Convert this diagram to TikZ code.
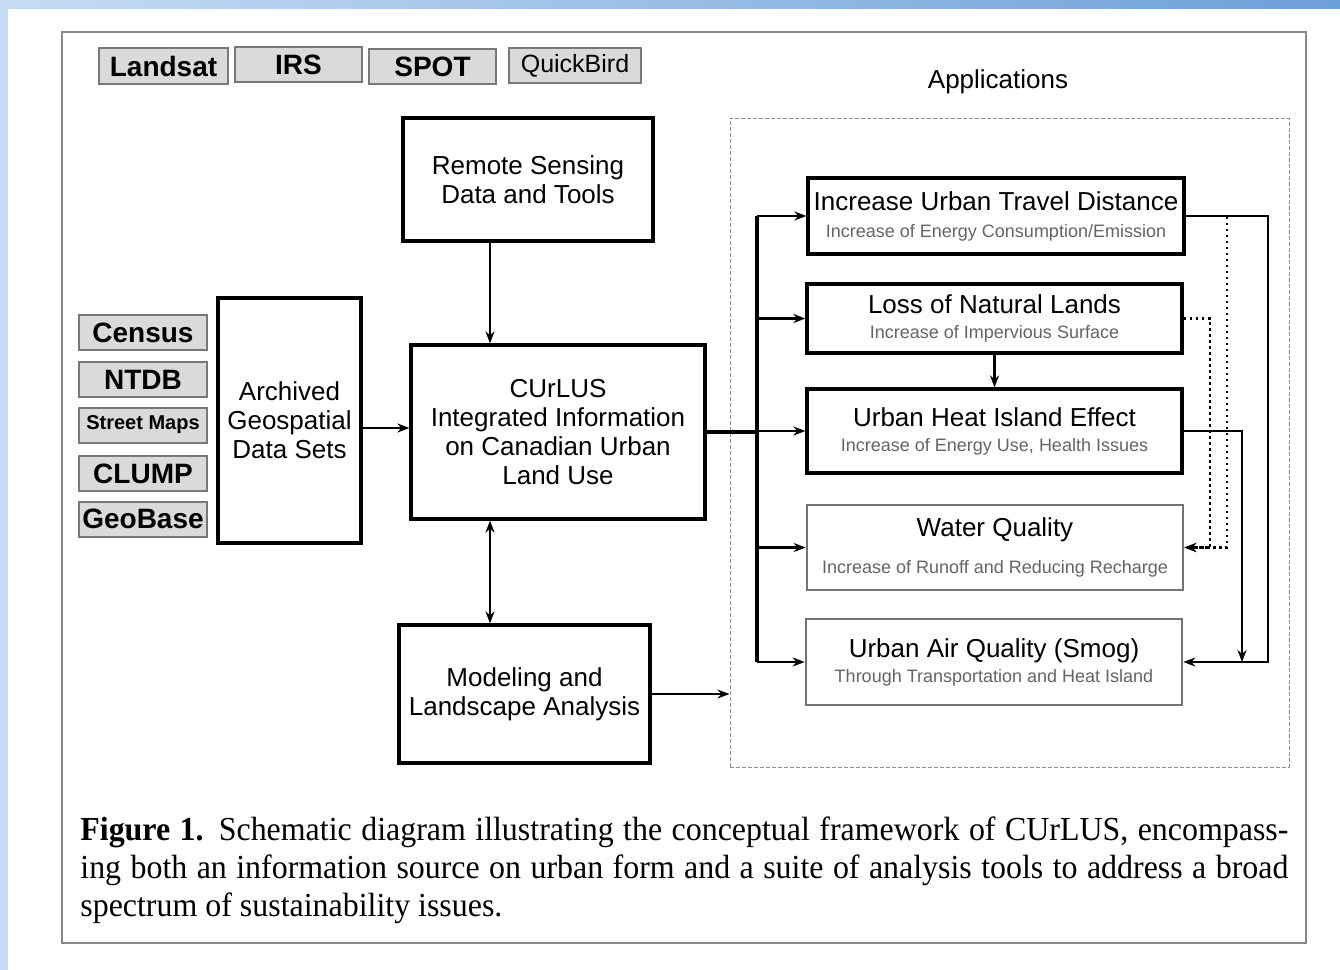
\documentclass[tikz,border=0pt]{standalone}
\usepackage{fontspec}
\setmainfont{Liberation Sans}
\newfontfamily\capserif[FakeStretch=0.95]{Liberation Serif}
\usetikzlibrary{arrows.meta}
\definecolor{bandlight}{RGB}{198,220,245}
\definecolor{banddark}{RGB}{108,160,216}
\definecolor{boxgray}{RGB}{218,218,218}
\definecolor{edgegray}{RGB}{120,120,120}
\definecolor{subgray}{RGB}{100,100,100}
\definecolor{framegray}{RGB}{135,135,135}
\newcommand\appnote[1]{{\fontsize{9}{10}\selectfont\color{subgray}#1}}

\begin{document}
\begin{tikzpicture}[x=0.5pt,y=-0.5pt,
  srcbox/.style={draw=edgegray,fill=boxgray,line width=1pt,inner sep=0pt,
    minimum width=64pt,minimum height=17.5pt,font=\bfseries\fontsize{14}{16}\selectfont},
  mainbox/.style={draw,line width=1.6pt,inner sep=0pt,align=center,
    font=\fontsize{13}{14.5}\selectfont},
  appbox/.style={mainbox,minimum width=188pt},
  softbox/.style={appbox,draw=black!55,line width=1.3pt},
  arr/.style={-{Stealth[length=6pt,width=4.5pt]},line width=1.4pt},
  dblarr/.style={{Stealth[length=6pt,width=4.5pt]}-{Stealth[length=6pt,width=4.5pt]},line width=1.4pt},
  dotarr/.style={arr,line width=1.3pt,dash pattern=on 1.3pt off 1.7pt},
  bigline/.style={line width=2pt},
  captext/.style={anchor=base west,inner sep=0pt,font=\capserif\fontsize{16.8}{19}\selectfont}]
  \useasboundingbox (0,0) rectangle (1340,970);
  \fill[white] (0,0) rectangle (1340,970);
  \shade[left color=bandlight,right color=banddark] (0,0) rectangle (1340,8);
  \fill[bandlight] (0,0) rectangle (8,970);
  \draw[framegray,line width=1.2pt] (62,32) rectangle (1306,943);

  % satellites
  \node[srcbox,minimum width=64.5pt,minimum height=18pt] (landsat) at (163.5,66) {Landsat};
  \node[srcbox,minimum width=63.5pt] (irs) at (298.5,64.5) {IRS};
  \node[srcbox,minimum width=63.5pt] (spot) at (432.5,66.5) {SPOT};
  \node[srcbox,minimum width=66pt,font=\fontsize{12.5}{14}\selectfont] (quickbird) at (575,65.5) {QuickBird};

  % archived sources
  \foreach \name/\y/\txt in {census/332.5/Census,ntdb/379.5/NTDB,
      streets/425/{\fontsize{10}{12}\selectfont Street Maps},clump/473.5/CLUMP,geobase/519/GeoBase}
    \node[srcbox] (\name) at (143,\y) {\txt};

  \node[mainbox,minimum width=71.5pt,minimum height=122.5pt] (archived) at (289.5,420.5)
    {Archived\\Geospatial\\Data Sets};
  \node[mainbox,minimum width=125pt,minimum height=61.5pt] (remote) at (528,179.5)
    {Remote Sensing\\Data and Tools};
  \node[mainbox,minimum width=147pt,minimum height=87pt] (curlus) at (558,432)
    {CUrLUS\\Integrated Information\\on Canadian Urban\\Land Use};
  \node[mainbox,minimum width=125.5pt,minimum height=69pt] (model) at (524.5,694)
    {Modeling and\\Landscape Analysis};

  % applications
  \node[font=\fontsize{13}{15}\selectfont] (appslabel) at (998,82) {Applications};
  \node[draw=black!45,dash pattern=on 2pt off 1pt,line width=0.5pt,minimum width=279.5pt,
    minimum height=324.5pt,inner sep=0pt] (apps) at (1009.5,442.5) {};
  \node[appbox,minimum height=38pt] (travel) at (996,216)
    {Increase Urban Travel Distance\\[-1pt]\appnote{Increase of Energy Consumption/Emission}};
  \node[appbox,minimum width=187.5pt,minimum height=34.5pt] (loss) at (994.5,318.5)
    {Loss of Natural Lands\\[-2pt]\appnote{Increase of Impervious Surface}};
  \node[appbox,minimum width=187.5pt,minimum height=42pt] (uhi) at (994.5,431)
    {Urban Heat Island Effect\\[-2pt]\appnote{Increase of Energy Use, Health Issues}};
  \node[softbox,minimum height=42.5pt] (water) at (995,547.5)
    {Water Quality\\[4pt]\appnote{Increase of Runoff and Reducing Recharge}};
  \node[softbox,minimum height=43pt] (air) at (994,662)
    {Urban Air Quality (Smog)\\[-2pt]\appnote{Through Transportation and Heat Island}};

  % connectors
  \coordinate (spine) at (490,0);
  \coordinate (bus) at (757,0);
  \coordinate (inlet) at ([yshift=2pt]curlus.west);
  \draw[arr] (remote.south -| spine) -- (curlus.north -| spine);
  \draw[arr] (archived.east |- inlet) -- (inlet);
  \draw[dblarr] (curlus.south -| spine) -- (model.north -| spine);
  \draw[arr] (model.east) -- (model.east -| apps.west);
  \draw[bigline] (curlus.east) -- (curlus.east -| bus);
  \draw[line width=1.6pt] (travel.west -| bus) -- (air.west -| bus);
  \foreach \app in {travel,loss,uhi,water,air}
    \draw[arr] (\app.west -| bus) -- (\app.west);
  \draw[arr] (loss.south) -- (uhi.north);

  \coordinate (farright) at (1268,0);
  \coordinate (heatdown) at (1242,0);
  \draw[arr] (travel.east) -- (travel.east -| farright) -- (air.east -| farright) -- (air.east);
  \draw[arr] (uhi.east) -- (uhi.east -| heatdown) -- (air.east -| heatdown);
  \coordinate (dotA) at (1227,0);
  \coordinate (dotB) at (1210,0);
  \draw[dotarr] (travel.east) -- (travel.east -| dotA) -- (water.east -| dotA) -- (water.east);
  \draw[dotarr] (loss.east) -- (loss.east -| dotB) -- (water.east -| dotB) -- (water.east);

  % caption
  \node[captext] (cap1) at (80,840)
    {\makebox[604pt][s]{\textbf{Figure 1.} Schematic diagram illustrating the conceptual framework of CUrLUS, encompass-}};
  \node[captext] (cap2) at (80,878)
    {\makebox[604pt][s]{ing both an information source on urban form and a suite of analysis tools to address a broad}};
  \node[captext] (cap3) at (80,916) {spectrum of sustainability issues.};
\end{tikzpicture}
\end{document}
